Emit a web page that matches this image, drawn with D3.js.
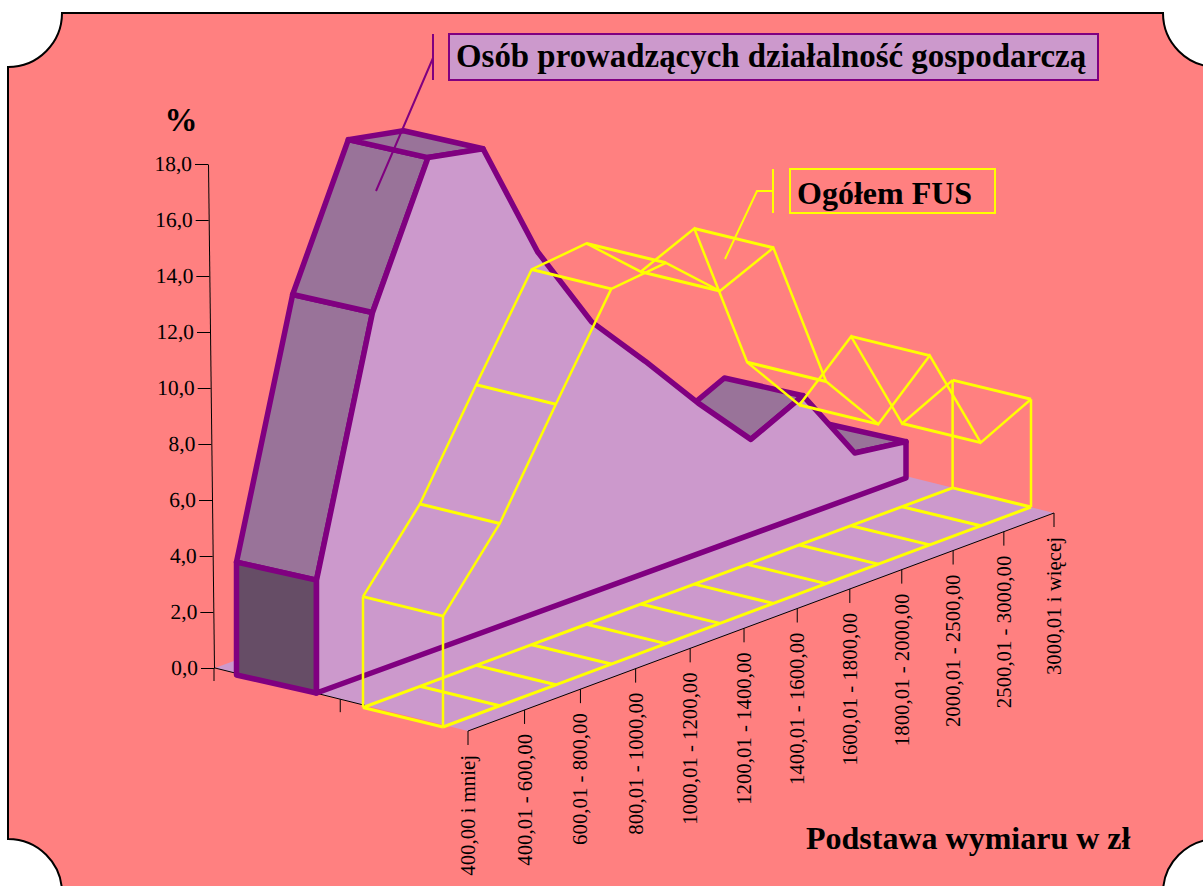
<!DOCTYPE html>
<html>
<head>
<meta charset="utf-8">
<script src="https://cdn.jsdelivr.net/npm/d3@7"></script>
<style>
  html, body { margin: 0; padding: 0; background: #fff; overflow: hidden; }
  svg { display: block; }
  text { font-family: "Liberation Serif", "Times New Roman", serif; fill: #000; }
</style>
</head>
<body>
<div id="chart"></div>
<script>
//============== data ===============//

const categories = ["400,00 i mniej", "400,01 - 600,00", "600,01 - 800,00", "800,01 - 1000,00",
  "1000,01 - 1200,00", "1200,01 - 1400,00", "1400,01 - 1600,00", "1600,01 - 1800,00",
  "1800,01 - 2000,00", "2000,01 - 2500,00", "2500,01 - 3000,00", "3000,01 i więcej"]

// percent of insured per contribution base
const osobValues = [4.03, 12.86, 17.67, 17.27, 12.88, 9.67, 7.57, 5.38, 3.4, 4.28, 1.56, 1.3]
const fusValues = [3.96, 6.51, 10.02, 13.4, 13.6, 11.87, 12.7, 7.22, 5.0, 6.76, 2.97, 3.85]

const yTicks = [0, 2, 4, 6, 8, 10, 12, 14, 16, 18]

const osobName = "Osób prowadzących działalność gospodarczą"
const fusName = "Ogółem FUS"

//============== env ===============//

const width = 1203, height = 886

const colors = {
  bg: "#FF8080", light: "#CC99CC", top: "#997399", end: "#664D66",
  purple: "#800080", yellow: "#FFFF00"
}

const svg = d3.select("#chart").append("svg")
  .attr("width", width)
  .attr("height", height)

// value axis: height above the floor
const lastIndex = categories.length - 1
const rise = d3.scaleLinear().domain([0, 18]).range([0, -504])

// the original has a slight perspective, far categories sit closer together
const along = d3.scaleLinear().domain([0, lastIndex]).range([0, 1])
const bent = (i, k) => along(i) * (1 + k) / (1 + k * along(i))
const u = i => bent(i, 0.0686)

// every band runs along the floor, with its own scales for the near edge
function band(x0, x1, y0, y1, depth, k) {
  const x = d3.scaleLinear().domain([0, 1]).range([x0, x1])
  const y = d3.scaleLinear().domain([0, 1]).range([y0, y1])
  const shrink = d3.scaleLinear().domain([0, 1]).range([1, 0.98])
  return {
    front: (i, v) => [x(bent(i, k)), y(bent(i, k)) + rise(v)],
    back: (i, v) => [x(bent(i, k)) + depth[0] * shrink(bent(i, k)), y(bent(i, k)) + depth[1] * shrink(bent(i, k)) + rise(v)]
  }
}

const osobBand = band(316.5, 906, 693, 478, [-80, -18], 0.05)
const fusBand = band(443, 1031, 727, 507, [-80, -19.5], 0.0686)
const axisX = d3.scaleLinear().domain([0, 1]).range([468, 1054])
const axisY = d3.scaleLinear().domain([0, 1]).range([731, 513])
const floorDepth = [-253, -63]

const line = d3.line()
const closed = pts => line(pts) + "Z"

//============== frame ===============//

svg.append("path")
  .attr("d", "M8,67 A54,54 0 0 0 62,13 H1163 A54,54 0 0 0 1217,67 V839 A54,54 0 0 0 1163,893 H62 A54,54 0 0 0 8,839 Z")
  .attr("fill", colors.bg)
  .attr("stroke", "#000")
  .attr("stroke-width", 2)

//============== floor and axes ===============//

svg.append("path")
  .attr("d", closed([
    [axisX(0), axisY(0)],
    [axisX(1), axisY(1)],
    [axisX(1) + floorDepth[0], axisY(1) + floorDepth[1]],
    [axisX(0) + floorDepth[0], axisY(0) + floorDepth[1]]
  ]))
  .attr("fill", colors.light)

// floor edges, the near corner of the left edge stays unlined
svg.append("path")
  .attr("d", line([[axisX(0) + floorDepth[0], axisY(0) + floorDepth[1]], [axisX(0) + floorDepth[0] * 0.4, axisY(0) + floorDepth[1] * 0.4]]))
  .attr("fill", "none")
  .attr("stroke", "#000")
  .attr("stroke-width", 1)

svg.append("path")
  .attr("d", line([[axisX(0), axisY(0)], [axisX(1), axisY(1)]]))
  .attr("fill", "none")
  .attr("stroke", "#000")
  .attr("stroke-width", 1)

// y axis leans a little, so the group gets a small skew
const yAxis = svg.append("g")
  .attr("transform", `matrix(1,0,0.0119,1,214,668)`)
  .call(d3.axisLeft(rise).tickValues(yTicks).tickSize(13).tickSizeOuter(0).tickPadding(3)
    .tickFormat(d => d3.format(".1f")(d).replace(".", ",")))
yAxis.attr("font-family", null).attr("font-size", null)
yAxis.selectAll("text").style("font-size", "21.5px")
yAxis.selectAll("line, path").attr("stroke", "#000").attr("stroke-width", 1)

svg.append("line")
  .attr("x1", 214).attr("x2", 214)
  .attr("y1", 668).attr("y2", 681)
  .attr("stroke", "#000")

svg.append("text")
  .attr("x", 181).attr("y", 131)
  .attr("text-anchor", "middle")
  .style("font-size", "33px")
  .style("font-weight", "bold")
  .text("%")

// category ticks and labels
const xTick = svg.selectAll("g.xtick")
  .data(categories)
  .join("g")
    .attr("class", "xtick")
    .attr("transform", (d, i) => `translate(${axisX(u(i))},${axisY(u(i))})`)

xTick.append("line")
  .attr("y2", 14)
  .attr("stroke", "#000")

xTick.append("text")
  .attr("transform", "translate(7,24) rotate(-90)")
  .attr("text-anchor", "end")
  .style("font-size", "20.8px")
  .text(d => d)

// depth tick on the left floor edge
svg.append("line")
  .attr("x1", axisX(0) + floorDepth[0] * 0.505).attr("x2", axisX(0) + floorDepth[0] * 0.505)
  .attr("y1", axisY(0) + floorDepth[1] * 0.505).attr("y2", axisY(0) + floorDepth[1] * 0.505 + 13)
  .attr("stroke", "#000")

//============== solid series ===============//

const solid = svg.append("g")
  .attr("stroke", colors.purple)
  .attr("stroke-width", 5.5)
  .attr("stroke-linejoin", "round")

// top faces that look up at the viewer, a falling slope turns away and is skipped
const segments = d3.range(lastIndex).filter(i => {
  const a = osobBand.front(i, osobValues[i]), b = osobBand.front(i + 1, osobValues[i + 1])
  const c = osobBand.back(i, osobValues[i])
  return (b[0] - a[0]) * (c[1] - a[1]) - (b[1] - a[1]) * (c[0] - a[0]) < 0
})

solid.selectAll("path.topface")
  .data(segments)
  .join("path")
    .attr("class", "topface")
    .attr("fill", colors.top)
    .attr("d", i => closed([
      osobBand.front(i, osobValues[i]),
      osobBand.front(i + 1, osobValues[i + 1]),
      osobBand.back(i + 1, osobValues[i + 1]),
      osobBand.back(i, osobValues[i])
    ]))

// end cap
solid.append("path")
  .attr("fill", colors.end)
  .attr("d", closed([
    osobBand.front(0, osobValues[0]),
    osobBand.front(0, 0),
    osobBand.back(0, 0),
    osobBand.back(0, osobValues[0])
  ]))

// front wall
solid.append("path")
  .attr("fill", colors.light)
  .attr("d", closed([
    ...osobValues.map((v, i) => osobBand.front(i, v)),
    osobBand.front(lastIndex, 0),
    osobBand.front(0, 0)
  ]))

//============== wire series ===============//

const wire = svg.append("g")
  .attr("fill", "none")
  .attr("stroke", colors.yellow)
  .attr("stroke-width", 2.5)

wire.append("path").attr("d", line(fusValues.map((v, i) => fusBand.front(i, v))))
wire.append("path").attr("d", line(fusValues.map((v, i) => fusBand.back(i, v))))
wire.append("path").attr("stroke-width", 3).attr("d", line(fusValues.map((v, i) => fusBand.front(i, 0))))
wire.append("path").attr("stroke-width", 3).attr("d", line(fusValues.map((v, i) => fusBand.back(i, 0))))

wire.selectAll("path.rung")
  .data(fusValues)
  .join("path")
    .attr("class", "rung")
    .attr("stroke-width", 3)
    .attr("d", (v, i) => line([fusBand.front(i, v), fusBand.back(i, v)]) + line([fusBand.front(i, 0), fusBand.back(i, 0)]))

wire.selectAll("path.post")
  .data([0, lastIndex])
  .join("path")
    .attr("class", "post")
    .attr("d", i => line([fusBand.front(i, fusValues[i]), fusBand.front(i, 0)]) + line([fusBand.back(i, fusValues[i]), fusBand.back(i, 0)]))

//============== callouts ===============//

svg.append("path")
  .attr("d", "M433,34 V80 M433,58 L376,191")
  .attr("fill", "none")
  .attr("stroke", colors.purple)
  .attr("stroke-width", 2)

svg.append("rect")
  .attr("x", 449).attr("y", 34)
  .attr("width", 649).attr("height", 46)
  .attr("fill", colors.light)
  .attr("stroke", colors.purple)
  .attr("stroke-width", 2)

svg.append("text")
  .attr("x", 456).attr("y", 67)
  .style("font-size", "32.9px")
  .style("font-weight", "bold")
  .text(osobName)

svg.append("path")
  .attr("d", "M773,169 V213 M773,191 H757 L725,259")
  .attr("fill", "none")
  .attr("stroke", colors.yellow)
  .attr("stroke-width", 2)

svg.append("rect")
  .attr("x", 790).attr("y", 169)
  .attr("width", 205).attr("height", 44)
  .attr("fill", "none")
  .attr("stroke", colors.yellow)
  .attr("stroke-width", 2)

svg.append("text")
  .attr("x", 797).attr("y", 204)
  .style("font-size", "32px")
  .style("font-weight", "bold")
  .text(fusName)

svg.append("text")
  .attr("x", 806).attr("y", 849)
  .style("font-size", "32px")
  .style("font-weight", "bold")
  .text("Podstawa wymiaru w zł")
</script>
</body>
</html>
